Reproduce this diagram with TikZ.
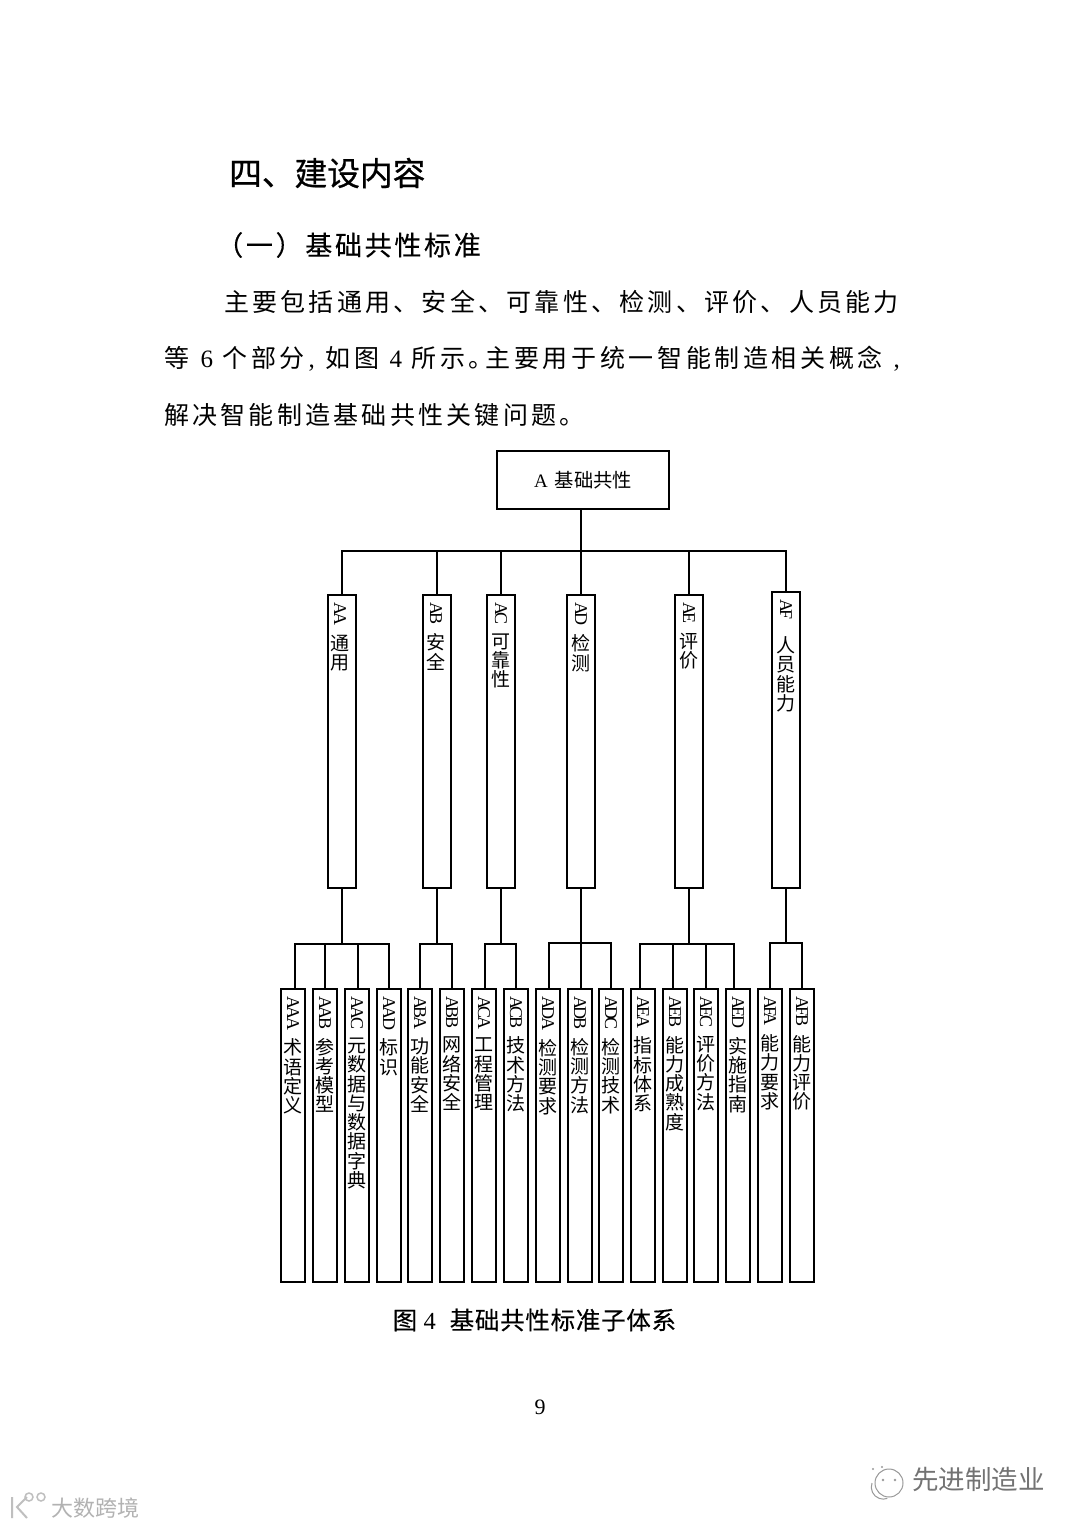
\documentclass[tikz,border=0pt]{standalone}
\usepackage{fontspec}
\usepackage{graphicx}
\setmainfont{Liberation Serif}
\newfontfamily\cjk{Noto Sans CJK SC}
\newfontfamily\cjkf[FakeBold=0.6]{Noto Sans CJK SC}
\newfontfamily\cjkb[LetterSpace=13]{Noto Sans CJK SC}
\newfontfamily\cjkc[LetterSpace=14.5]{Noto Sans CJK SC}
\newfontfamily\cjkd[LetterSpace=10,FakeBold=0.3]{Noto Sans CJK SC}
\newfontfamily\cjke[LetterSpace=3,FakeBold=0.3]{Noto Sans CJK SC}
\newfontfamily\latn[LetterSpace=-15]{Liberation Serif}
\newcommand\vlab[2]{\rotatebox{-90}{\latn\fontsize{18}{19.3}\selectfont #1}\\[#2]}
\newcommand\putat[2]{\hbox to 0pt{\hskip #1pt #2\hss}}
\tikzset{
  ln/.style={line width=1.8pt,black},
  tbox/.style={draw=black,line width=1.8pt,fill=white,inner sep=0pt},
  midbox/.style={tbox,minimum width=28pt,anchor=south,minimum height=293pt},
  leafbox/.style={tbox,minimum width=24pt,minimum height=293pt,anchor=south},
  vtext/.style={anchor=north,inner sep=0pt,align=center,font=\cjk\fontsize{19}{19.3}\selectfont},
  bodyt/.style={anchor=west,inner sep=0pt,font=\cjkb\fontsize{25}{25}\selectfont},
  wm/.style={anchor=west,inner sep=0pt}
}
\begin{document}
\begin{tikzpicture}[x=1pt,y=-1pt]
\useasboundingbox (0,0) rectangle (1080,1527);
\fill[white] (0,0) rectangle (1080,1527);
% page text
\node[anchor=west,inner sep=0pt,font=\cjkf\fontsize{32.7}{33}\selectfont] (h1) at (229,173) {四、建设内容};
\node[anchor=west,inner sep=0pt,font=\cjkd\fontsize{27}{27}\selectfont] (h2) at (216,245) {（一）基础共性标准};
\node[bodyt] (p1) at (224,302) {主要包括通用、安全、可靠性、检测、评价、人员能力};
\node[anchor=west,inner sep=0pt,minimum height=25pt,font=\cjkb\fontsize{25}{25}\selectfont] (p2) at (164,359) {\putat{0}{等}\putat{36}{\rmfamily 6}\putat{58}{个}\putat{87}{部}\putat{115}{分}\putat{144}{\rmfamily ,}\putat{161}{如}\putat{190}{图}\putat{225}{\rmfamily 4}\putat{247}{所}\putat{276}{示}\putat{304}{。}\putat{321}{\cjkc 主要用于统一智能制造相关概念}\putat{729}{\rmfamily ,}};
\node[bodyt] (p3) at (164,415) {解决智能制造基础共性关键问题。};
% root
\node[tbox,minimum width=172pt,minimum height=58pt] (A) at (583,480) {{\fontsize{19}{19}\selectfont A}\hspace{7pt}{\cjk\fontsize{19.3}{19}\selectfont 基础共性}};
\coordinate (bus) at (581,551);
% mid boxes
\foreach \n/\x in {AA/342,AB/437,AC/501,AD/581,AE/689}
  \node[midbox] (\n) at (\x,889) {};
\node[midbox,minimum height=296pt] (AF) at (786,889) {};
% leaf boxes
\foreach \n/\x in {AAA/293,AAB/325,AAC/357,AAD/389,ABA/420,ABB/452,ACA/484,ACB/516,ADA/548,ADB/580,ADC/611,AEA/643,AEB/675,AEC/706,AED/738,AFA/770,AFB/802}
  \node[leafbox] (\n) at (\x,1283) {};
% top connectors
\draw[ln] (A.south -| bus) -- (AD.north);
\foreach \n in {AA,AB,AC,AE,AF}
  \draw[ln] (\n.north) |- (bus);
% brackets
\coordinate (bAA) at (342,944);
\coordinate (bAB) at (437,944);
\coordinate (bAC) at (501,944);
\coordinate (bAD) at (581,943);
\coordinate (bAE) at (689,944);
\coordinate (bAF) at (786,943);
\foreach \n in {AA,AB,AC,AD,AE,AF}
  \draw[ln] (\n.south) -- (b\n);
\foreach \l/\p/\s in {AAA/AA/2,AAB/AA/0,AAC/AA/1,AAD/AA/0,ABA/AB/0,ABB/AB/0,ACA/AC/1,ACB/AC/0,ADA/AD/1,ADB/AD/1,ADC/AD/0,AEA/AE/-3,AEB/AE/-2,AEC/AE/0,AED/AE/-4,AFA/AF/0,AFB/AF/0}
  \draw[ln] ([xshift=\s pt]\l.north) |- (b\p);
% mid labels
\node[vtext] (lAA) at ([xshift=-2pt,yshift=-8pt]AA.north) {\vlab{AA}{8pt}通\\用};
\node[vtext] (lAB) at ([xshift=-1pt,yshift=-8pt]AB.north) {\vlab{AB}{8pt}安\\全};
\node[vtext] (lAC) at ([xshift=0pt,yshift=-8pt]AC.north) {\vlab{AC}{8pt}可\\靠\\性};
\node[vtext] (lAD) at ([xshift=0pt,yshift=-8pt]AD.north) {\vlab{AD}{8pt}检\\测};
\node[vtext] (lAE) at ([xshift=0pt,yshift=-8pt]AE.north) {\vlab{AE}{8pt}评\\价};
\node[vtext] (lAF) at ([xshift=0pt,yshift=-8pt]AF.north) {\vlab{AF}{16pt}人\\员\\能\\力};
% leaf labels
\foreach \n/\t in {AAA/术\\语\\定\\义,AAB/参\\考\\模\\型,AAC/元\\数\\据\\与\\数\\据\\字\\典,AAD/标\\识,ABA/功\\能\\安\\全,ABB/网\\络\\安\\全,ACA/工\\程\\管\\理,ACB/技\\术\\方\\法,ADA/检\\测\\要\\求,ADB/检\\测\\方\\法,ADC/检\\测\\技\\术,AEA/指\\标\\体\\系,AEB/能\\力\\成\\熟\\度,AEC/评\\价\\方\\法,AED/实\\施\\指\\南,AFA/能\\力\\要\\求,AFB/能\\力\\评\\价}
  \node[vtext] (l\n) at ([yshift=-8pt]\n.north) {\vlab{\n}{8pt}\t};
% caption and page number
\node[anchor=west,inner sep=0pt,minimum height=24pt,font=\cjke\fontsize{24.5}{25}\selectfont] (cap) at (392,1320) {\putat{0}{图}\putat{31}{\rmfamily 4}\putat{57}{基础共性标准子体系}};
\node[inner sep=0pt,font=\fontsize{22}{22}\selectfont] (pg) at (540,1407) {9};
% watermarks
\node[wm,text=black!55,font=\cjk\fontsize{26.5}{26}\selectfont] (w1) at (912,1479) {先进制造业};
\draw[black!40,line width=1pt] (889,1483) circle (14);
\draw[black!40,line width=1pt] (872,1483) arc (200:70:12);
\fill[black!40] (883,1480) circle (1.3) (895,1480) circle (1.3) (873,1469) circle (1.2) (882,1467) circle (1.2);
\node[wm,text=black!30,font=\cjk\fontsize{22}{22}\selectfont] (w2) at (51,1508) {大数跨境};
\draw[black!25,line width=2pt] (12,1497) -- (12,1518) (27,1497) -- (17,1507) -- (27,1518);
\draw[black!25,line width=1.5pt] (29,1497) circle (4) (41,1497) circle (4);
\end{tikzpicture}
\end{document}
